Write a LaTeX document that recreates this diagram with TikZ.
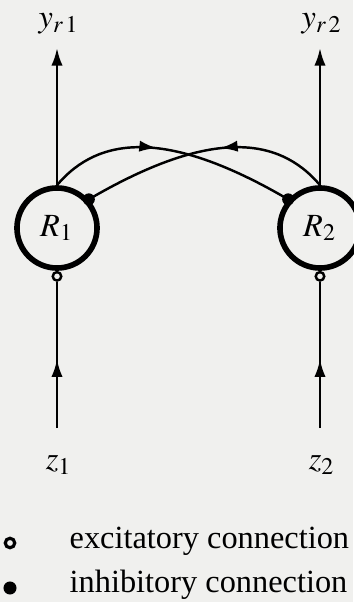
\documentclass[tikz,border=0pt]{standalone}
\usepackage{mathptmx}
\usepackage[no-math]{fontspec}
\setmainfont{Liberation Serif}
\usetikzlibrary{arrows.meta,decorations.markings,positioning}

\definecolor{paper}{RGB}{240,240,238}

\tikzset{
  txt/.style={font=\fontsize{9.2}{11}\selectfont},
  unit/.style={circle,draw,line width=1.6pt,minimum size=0.8cm,inner sep=0pt,txt},
  exc/.style={circle,draw,fill=paper,line width=0.7pt,minimum size=0.085cm,inner sep=0pt},
  inh/.style={circle,fill=black,minimum size=0.12cm,inner sep=0pt},
  wire/.style={line width=0.7pt},
  tip/.style={-{Latex[length=5pt,width=3.2pt]}},
  midtip/.style={postaction={decorate},decoration={markings,
      mark=at position #1 with {\arrow{Latex[length=5pt,width=3.2pt]}}}}
}

\begin{document}
\begin{tikzpicture}[x=0.01cm,y=0.01cm]
    \fill[paper] (0,0) rectangle (353,602);
    \useasboundingbox (0,0) rectangle (353,602);

    \node[unit] (R1) at (57,374) {$R_1$};
    \node[unit] (R2) at (320,374) {$R_2$};

    \node[exc,below=0pt of R1] (e1) {};
    \node[exc,below=0pt of R2] (e2) {};

    \coordinate (in1) at (57,174);
    \coordinate (in2) at (320,174);
    \coordinate (out1) at (57,554);
    \coordinate (out2) at (320,554);

    \draw[wire,midtip=0.47] (in1) -- (e1);
    \draw[wire,midtip=0.47] (in2) -- (e2);
    \draw[wire,tip] (R1) -- (out1);
    \draw[wire,tip] (R2) -- (out2);

    \draw[wire,midtip=0.44] (R1.north) .. controls +(43,51) and +(-118,69) .. (R2.138);
    \draw[wire,midtip=0.44] (R2.north) .. controls +(-43,51) and +(118,69) .. (R1.42);

    \node[inh] (d1) at (R1.42) {};
    \node[inh] (d2) at (R2.138) {};

    \node[txt] (y1) at (59,578) {$y_{r\,1}$};
    \node[txt] (y2) at (322,578) {$y_{r\,2}$};
    \node[txt] (z1) at (59,137) {$z_1$};
    \node[txt] (z2) at (322,137) {$z_2$};

    \node[exc,line width=0.9pt,minimum size=0.095cm] (ke) at (10,59) {};
    \node[inh,minimum size=0.13cm] (ki) at (10,14) {};
    \node[txt,inner sep=0pt,anchor=base west] (kt1) at (69,54) {excitatory connection};
    \node[txt,inner sep=0pt,anchor=base west] (kt2) at (69,9) {inhibitory connection};
\end{tikzpicture}
\end{document}
